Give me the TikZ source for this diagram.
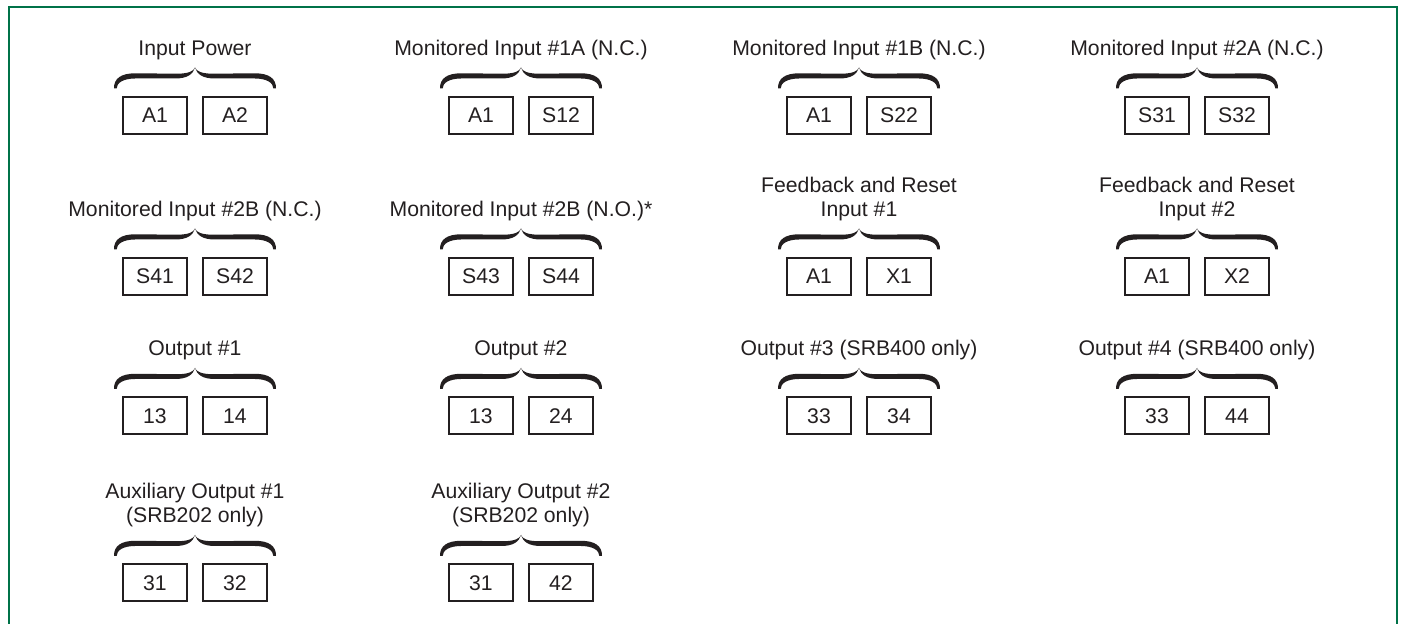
\documentclass[tikz,border=0pt]{standalone}
\usepackage{fontspec}
\setmainfont{Liberation Sans}
\usetikzlibrary{positioning}

\definecolor{framegreen}{RGB}{0,114,72}
\definecolor{inkgray}{RGB}{35,31,32}

\tikzset{
    terminal/.style={draw=inkgray, line width=1pt, minimum width=32pt, minimum height=18.5pt, inner sep=0pt, text=inkgray},
    grouptitle/.style={anchor=south, inner sep=0pt, align=center, text=inkgray},
    % calligraphic curly brace, ends at the origin level, tip 10.5pt above
    pics/tbrace/.style={code={
        \foreach \s in {1,-1}
            \fill[inkgray, xscale=\s] (-40.5pt,0pt) .. controls (-40.6pt,5pt) and (-37pt,7.6pt) .. (-30pt,7.6pt)
                -- (-9pt,7.4pt) .. controls (-3pt,7.4pt) and (-0.6pt,8.8pt) .. (0pt,10.5pt)
                .. controls (-1pt,7pt) and (-4pt,5pt) .. (-10pt,5pt)
                -- (-30pt,5pt) .. controls (-35.5pt,5pt) and (-39.2pt,3pt) .. (-39.2pt,0pt) -- cycle;
    }}
}

\begin{document}
\begin{tikzpicture}[x=0.5pt, y=-0.5pt, font=\fontsize{10.6}{12}\selectfont]
    \useasboundingbox (0,0) rectangle (1405,624);
    \draw[framegreen, line width=1.3pt] (9,660) -- (9,7) -- (1397,7) -- (1397,660);

    % terminal pairs: column x / row y / name / left / right / title
    \foreach \x/\y/\n/\l/\r/\t in {
        195/115.5/pwr/A1/A2/{Input Power},
        521/115.5/mia/A1/S12/{Monitored Input \#1A (N.C.)},
        859/115.5/mib/A1/S22/{Monitored Input \#1B (N.C.)},
        1197/115.5/mic/S31/S32/{Monitored Input \#2A (N.C.)},
        195/276.5/mid/S41/S42/{Monitored Input \#2B (N.C.)},
        521/276.5/mie/S43/S44/{Monitored Input \#2B (N.O.)*},
        859/276.5/fba/A1/X1/{Feedback and Reset\\Input \#1},
        1197/276.5/fbb/A1/X2/{Feedback and Reset\\Input \#2},
        195/416/outa/13/14/{Output \#1},
        521/416/outb/13/24/{Output \#2},
        859/416/outc/33/34/{Output \#3 (SRB400 only)},
        1197/416/outd/33/44/{Output \#4 (SRB400 only)},
        195/583/auxa/31/32/{Auxiliary Output \#1\\(SRB202 only)},
        521/583/auxb/31/42/{Auxiliary Output \#2\\(SRB202 only)}}
    {
        \coordinate (\n) at (\x,\y);
        \node[terminal, left=3.5pt of \n] (\n-l) {\l};
        \node[terminal, right=3.5pt of \n] (\n-r) {\r};
        \pic at ([yshift=13.5pt]\n) {tbrace};
        \node[grouptitle, above=27.75pt of \n] (\n-t) {\t};
    }
\end{tikzpicture}
\end{document}
